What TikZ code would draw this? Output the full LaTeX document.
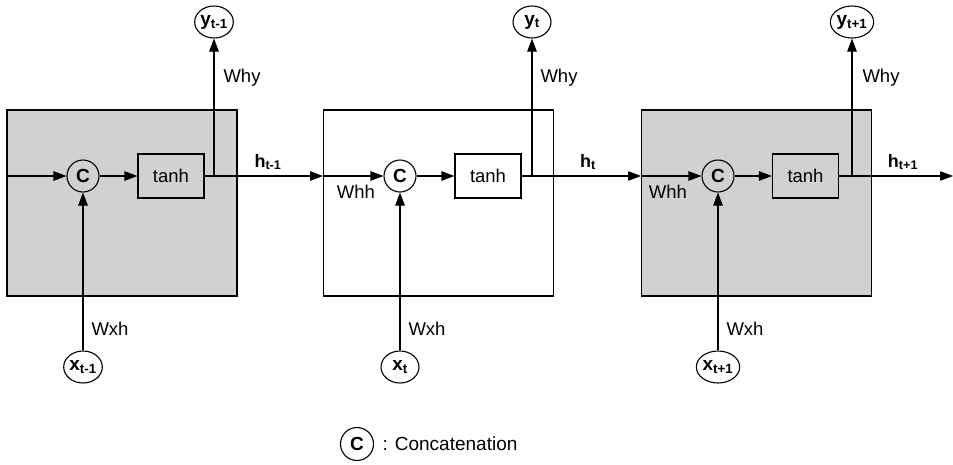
\documentclass[tikz,border=0pt]{standalone}
\usepackage{fontspec}
\setmainfont{Liberation Sans}
\usetikzlibrary{arrows.meta,shapes.geometric}
\begin{document}
\begin{tikzpicture}[x=1pt,y=-1pt, line width=1.1pt,
 >={Triangle[length=13pt,width=9.5pt]},
 lbl/.style={font=\fontsize{18.5}{20}\selectfont},
 hlbl/.style={font=\fontsize{18}{20}\selectfont\bfseries},
 cnode/.style={draw,circle,minimum size=32pt,inner sep=0pt,font=\fontsize{19}{20}\selectfont\bfseries},
 tbox/.style={draw,minimum width=66pt,minimum height=44pt,inner sep=0pt,font=\fontsize{18.5}{20}\selectfont},
 io/.style={draw,ellipse,minimum width=38pt,minimum height=32pt,inner sep=0pt,font=\fontsize{19}{20}\selectfont\bfseries},
 cell/.style={draw,minimum width=230pt,minimum height=186pt,inner sep=0pt},
 shaded/.style={fill=black!18}]
\useasboundingbox (0,0) rectangle (953,464);

% cells
\node[cell,shaded] (B1) at (122,203) {};
\node[cell] (B2) at (438.5,203) {};
\node[cell,shaded] (B3) at (756.5,203) {};

% concatenation and tanh
\node[cnode] (C1) at (83,176) {C};
\node[cnode] (C2) at (400,176) {C};
\node[cnode] (C3) at (718,176) {C};
\node[tbox] (T1) at (171,176) {tanh};
\node[tbox] (T2) at (488,176) {tanh};
\node[tbox] (T3) at (805.5,176) {tanh};

% outputs and inputs
\node[io] (Y1) at (214,22) {y\textsubscript{t-1}};
\node[io] (Y2) at (532,22) {y\textsubscript{t}};
\node[io] (Y3) at (852,22) {y\textsubscript{t+1}};
\node[io] (X1) at (83,367) {x\textsubscript{t-1}};
\node[io] (X2) at (400,367) {x\textsubscript{t}};
\node[io] (X3) at (718,367) {x\textsubscript{t+1}};

% junctions and edges
\coordinate (S1) at (7,176);
\coordinate (J1) at (214,176);
\coordinate (J2) at (532,176);
\coordinate (J3) at (852,176);
\coordinate (E2) at (323,176);
\coordinate (E3) at (641,176);
\coordinate (E4) at (953,176);

% connectors
\draw[->] (S1) -- (C1);
\draw[->] (C1) -- (T1);
\draw (T1) -- (J1);
\draw[->] (J1) -- (Y1);
\draw[->] (J1) -- (E2);
\draw[->] (E2) -- (C2);
\draw[->] (C2) -- (T2);
\draw (T2) -- (J2);
\draw[->] (J2) -- (Y2);
\draw[->] (J2) -- (E3);
\draw[->] (E3) -- (C3);
\draw[->] (C3) -- (T3);
\draw (T3) -- (J3);
\draw[->] (J3) -- (Y3);
\draw[->] (J3) -- (E4);
\draw[->] (X1) -- (C1);
\draw[->] (X2) -- (C2);
\draw[->] (X3) -- (C3);

% labels
\node[lbl] (why1) at (242,78) {Why};
\node[lbl] (why2) at (559,78) {Why};
\node[lbl] (why3) at (881,78) {Why};
\node[lbl] (wxh1) at (110,329) {Wxh};
\node[lbl] (wxh2) at (427,329) {Wxh};
\node[lbl] (wxh3) at (745,329) {Wxh};
\node[lbl] (whh2) at (356,192) {Whh};
\node[lbl] (whh3) at (668,192) {Whh};
\node[hlbl] (h1) at (268,162) {h\textsubscript{t-1}};
\node[hlbl] (h2) at (588,162) {h\textsubscript{t}};
\node[hlbl] (h3) at (903,162) {h\textsubscript{t+1}};

% legend
\node[cnode,minimum size=33pt] (LC) at (357,444) {C};
\node[font=\fontsize{19}{22}\selectfont,anchor=west,inner sep=0pt] (LT) at (382,444) {: Concatenation};
\end{tikzpicture}
\end{document}
